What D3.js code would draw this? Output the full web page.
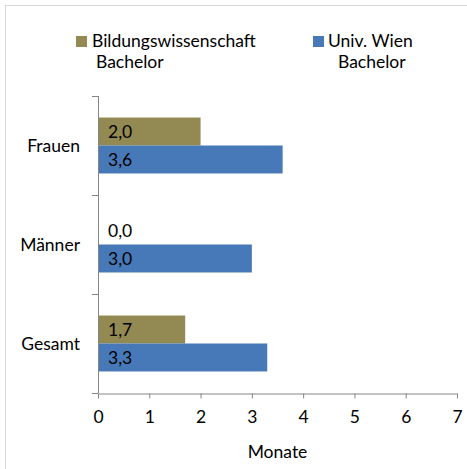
<!DOCTYPE html>
<html>
<head>
<meta charset="utf-8">
<script src="https://cdn.jsdelivr.net/npm/d3@7"></script>
<style>
  html, body { margin: 0; padding: 0; background: #fff; }
  svg { display: block; font-family: Lato, "Open Sans", sans-serif; }
</style>
</head>
<body>
<div id="chart"></div>
<script>
// ── Data ───────────────────────────────────────────────────────────────────
const categories = ["Frauen", "Männer", "Gesamt"];
const seriesNames = [["Bildungswissenschaft", "Bachelor"], ["Univ. Wien", "Bachelor"]];
const bildungswissenschaft = [2.0, 0.0, 1.7];
const univWien = [3.6, 3.0, 3.3];
const xTicks = [0, 1, 2, 3, 4, 5, 6, 7];

const COLORS = ["#938953", "#4778b7"];
const AXIS = "#868686";
const FS = 17.5;

// ── Dimensions ─────────────────────────────────────────────────────────────
const width = 467, height = 469;
const plot = { left: 98, right: 457, top: 96, bottom: 393 };

const svg = d3.select("#chart").append("svg")
  .attr("width", width)
  .attr("height", height);

// chart frame
svg.append("rect")
  .attr("x", 5.5).attr("y", 5.5)
  .attr("width", width).attr("height", height)
  .attr("fill", "none")
  .attr("stroke", "#d9d9d9");

// ── Scales ─────────────────────────────────────────────────────────────────
const x = d3.scaleLinear().domain([0, 7]).range([plot.left, plot.right]);
const y = d3.scaleBand().domain(categories).range([plot.top, plot.bottom]).padding(0);
const ySub = d3.scaleBand().domain([0, 1]).range([0, y.bandwidth()]).paddingOuter(0.77).paddingInner(0);

const rows = categories.map((c, i) => ({
  cat: c,
  values: [bildungswissenschaft[i], univWien[i]]
}));

// ── Bars ───────────────────────────────────────────────────────────────────
const groups = svg.append("g").selectAll("g")
  .data(rows).join("g")
  .attr("transform", d => `translate(0,${y(d.cat)})`);

groups.selectAll("rect")
  .data(d => d.values.map((v, s) => ({ v, s })))
  .join("rect")
  .attr("x", x(0))
  .attr("y", d => ySub(d.s))
  .attr("width", d => x(d.v) - x(0))
  .attr("height", ySub.bandwidth())
  .attr("fill", d => COLORS[d.s]);

groups.selectAll("text")
  .data(d => d.values.map((v, s) => ({ v, s })))
  .join("text")
  .attr("x", x(0) + 10)
  .attr("y", d => ySub(d.s) + ySub.bandwidth() / 2)
  .attr("dy", "0.36em")
  .attr("font-size", FS)
  .attr("fill", "#000")
  .text(d => d.v.toFixed(1).replace(".", ","));

// ── X axis ─────────────────────────────────────────────────────────────────
const xAxis = svg.append("g")
  .attr("transform", `translate(0,${plot.bottom + 0.5})`)
  .call(d3.axisBottom(x).tickValues(xTicks).tickFormat(d3.format("d"))
    .tickSize(5).tickSizeOuter(0).tickPadding(12));
xAxis.select(".domain").attr("stroke", AXIS);
xAxis.selectAll(".tick line").attr("stroke", AXIS);
xAxis.selectAll(".tick text")
  .attr("font-size", FS)
  .attr("font-family", "Lato, sans-serif")
  .attr("fill", "#000");

svg.append("text")
  .attr("x", (plot.left + plot.right) / 2)
  .attr("y", 458)
  .attr("text-anchor", "middle")
  .attr("font-size", FS)
  .text("Monate");

// ── Y axis ─────────────────────────────────────────────────────────────────
svg.append("line")
  .attr("x1", plot.left + 0.5).attr("x2", plot.left + 0.5)
  .attr("y1", plot.top).attr("y2", plot.bottom)
  .attr("stroke", AXIS);

const yBounds = categories.map(c => y(c)).concat([y(categories[categories.length - 1]) + y.bandwidth()]);
svg.append("g").selectAll("line")
  .data(yBounds).join("line")
  .attr("x1", plot.left - 6).attr("x2", plot.left)
  .attr("y1", d => Math.round(d) + 0.5).attr("y2", d => Math.round(d) + 0.5)
  .attr("stroke", AXIS);

svg.append("g").selectAll("text")
  .data(categories).join("text")
  .attr("x", 80)
  .attr("y", d => y(d) + y.bandwidth() / 2)
  .attr("dy", "0.36em")
  .attr("text-anchor", "end")
  .attr("font-size", FS)
  .text(d => d);

// ── Legend ─────────────────────────────────────────────────────────────────
const legendPos = [{ sx: 76, tx: 92, tx2: 96 }, { sx: 313, tx: 328, tx2: 338 }];
const legend = svg.append("g").selectAll("g")
  .data(seriesNames).join("g");

legend.append("rect")
  .attr("x", (d, i) => legendPos[i].sx)
  .attr("y", 36)
  .attr("width", 11).attr("height", 11)
  .attr("fill", (d, i) => COLORS[i]);

legend.append("text")
  .attr("x", (d, i) => legendPos[i].tx)
  .attr("y", 47)
  .attr("font-size", FS)
  .text(d => d[0]);

legend.append("text")
  .attr("x", (d, i) => legendPos[i].tx2)
  .attr("y", 68)
  .attr("font-size", FS)
  .text(d => d[1]);
</script>
</body>
</html>
